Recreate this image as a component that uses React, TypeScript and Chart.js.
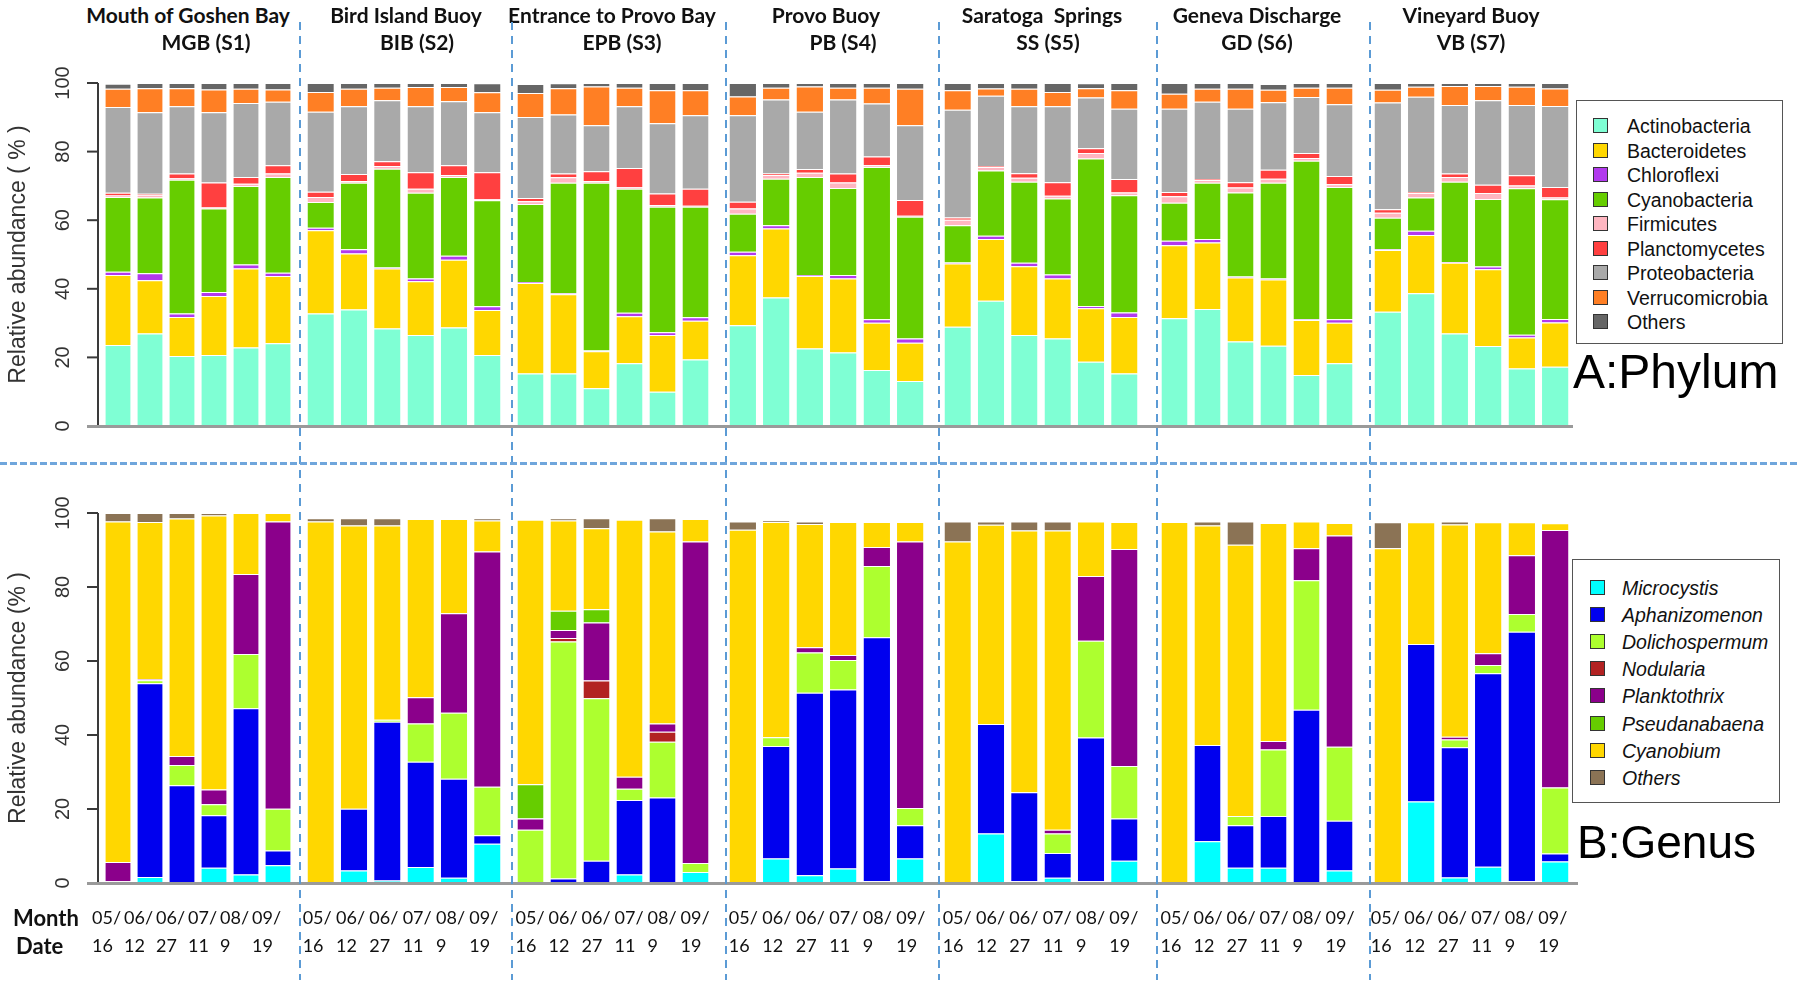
import React, { useEffect, useRef } from "react";
import { Chart, registerables } from "chart.js";

Chart.register(...registerables);

// ---------------- DATA ----------------
const siteTitles = [
  "Mouth of Goshen Bay",
  "Bird Island Buoy",
  "Entrance to Provo Bay",
  "Provo Buoy",
  "Saratoga  Springs",
  "Geneva Discharge",
  "Vineyard Buoy",
];
const siteCodes = ["MGB (S1)", "BIB (S2)", "EPB (S3)", "PB (S4)", "SS (S5)", "GD (S6)", "VB (S7)"];
const monthLabels = ["05/", "06/", "06/", "07/", "08/", "09/"];
const dayLabels = ["16", "12", "27", "11", "9", "19"];
const yTicks = [0, 20, 40, 60, 80, 100];

const phylumNames = [
  "Actinobacteria",
  "Bacteroidetes",
  "Chloroflexi",
  "Cyanobacteria",
  "Firmicutes",
  "Planctomycetes",
  "Proteobacteria",
  "Verrucomicrobia",
  "Others",
];
const phylumColors = ["#7FFFD4", "#FFD700", "#B23AEE", "#66CD00", "#FFB6C1", "#FF4040", "#A9A9A9", "#FF7F24", "#666666"];

// 7 sites x 6 dates (S1..S7)
const actinobacteria = [
  23.6, 27.0, 20.4, 20.7, 22.9, 24.1,
  32.8, 34.0, 28.4, 26.5, 28.7, 20.7,
  15.3, 15.3, 11.0, 18.3, 10.0, 19.4,
  29.4, 37.5, 22.6, 21.4, 16.3, 13.1,
  28.9, 36.5, 26.5, 25.5, 18.7, 15.3,
  31.4, 34.1, 24.6, 23.4, 14.9, 18.3,
  33.3, 38.7, 27.0, 23.3, 16.8, 17.3,
];
const bacteroidetes = [
  20.4, 15.5, 11.4, 17.2, 23.0, 19.6,
  24.3, 16.3, 17.5, 15.7, 19.8, 13.1,
  26.4, 23.1, 10.8, 13.7, 16.5, 11.3,
  20.4, 20.1, 21.1, 21.6, 13.8, 11.2,
  18.5, 18.0, 20.1, 17.5, 15.6, 16.5,
  21.3, 19.4, 18.7, 19.3, 16.0, 11.8,
  18.0, 17.0, 20.6, 22.4, 9.0, 12.9,
];
const chloroflexi = [
  1.0, 2.0, 1.0, 1.2, 1.2, 1.0,
  0.7, 1.2, 0.3, 0.8, 1.1, 1.1,
  0.3, 0.3, 0.2, 1.0, 0.8, 1.0,
  1.0, 0.9, 0.3, 1.0, 1.0, 1.2,
  0.3, 1.0, 1.0, 1.2, 0.7, 1.3,
  1.3, 1.0, 0.3, 0.3, 0.2, 1.0,
  0.2, 1.2, 0.2, 0.8, 0.8, 1.0,
];
const cyanobacteria = [
  21.8, 22.1, 39.0, 24.3, 22.9, 27.9,
  7.5, 19.4, 28.8, 25.0, 23.0, 30.9,
  22.7, 32.2, 48.9, 36.2, 36.6, 32.2,
  11.1, 13.6, 28.6, 25.4, 44.4, 35.5,
  10.8, 19.0, 23.6, 22.1, 43.0, 34.2,
  11.1, 16.4, 24.5, 27.9, 46.2, 38.6,
  9.2, 9.7, 23.4, 19.7, 42.7, 34.9,
];
const firmicutes = [
  0.4, 0.8, 0.5, 0.3, 0.6, 1.0,
  1.5, 0.5, 0.8, 1.2, 0.6, 0.3,
  0.8, 1.6, 0.5, 0.5, 0.5, 0.3,
  1.5, 1.1, 1.2, 1.6, 0.5, 0.3,
  1.6, 1.0, 1.2, 0.8, 1.6, 0.8,
  1.9, 0.8, 1.4, 1.2, 0.8, 0.8,
  1.5, 1.3, 1.4, 1.7, 0.8, 0.5,
];
const planctomycetes = [
  0.8, 0.3, 1.3, 7.3, 2.0, 2.4,
  1.5, 2.1, 1.4, 4.8, 2.8, 7.9,
  1.0, 1.1, 2.9, 5.5, 3.4, 5.0,
  2.0, 0.4, 1.1, 2.6, 2.6, 4.6,
  0.7, 0.3, 1.3, 4.0, 1.4, 3.9,
  1.2, 0.3, 1.6, 2.6, 1.5, 2.4,
  1.0, 0.3, 1.0, 2.4, 3.0, 3.1,
];
const proteobacteria = [
  25.0, 23.8, 19.6, 20.5, 21.6, 18.5,
  23.3, 19.7, 17.8, 19.2, 18.7, 17.5,
  23.6, 17.2, 13.4, 18.0, 20.5, 21.4,
  25.2, 21.6, 16.7, 21.6, 15.4, 21.8,
  31.4, 20.5, 19.5, 22.1, 14.8, 20.5,
  24.3, 22.5, 21.4, 19.7, 16.3, 20.9,
  31.1, 27.8, 20.0, 24.7, 20.5, 23.6,
];
const verrucomicrobia = [
  5.3, 7.0, 5.3, 6.6, 4.1, 3.6,
  5.8, 5.1, 3.6, 5.6, 4.1, 5.8,
  7.0, 7.7, 11.3, 5.4, 9.6, 7.3,
  5.5, 3.4, 7.4, 3.4, 4.6, 10.6,
  5.7, 2.1, 5.1, 4.2, 2.7, 5.4,
  4.4, 3.8, 5.8, 3.6, 2.7, 4.8,
  3.7, 2.9, 5.5, 4.1, 5.3, 5.1,
];
const phylumOthers = [
  1.5, 1.5, 1.5, 1.9, 1.7, 1.9,
  2.6, 1.7, 1.4, 1.2, 1.2, 2.6,
  2.6, 1.4, 1.0, 1.4, 2.1, 2.1,
  3.9, 1.4, 1.0, 1.4, 1.4, 1.7,
  2.1, 1.6, 1.7, 2.6, 1.4, 2.1,
  3.1, 1.7, 1.7, 1.7, 1.4, 1.4,
  2.0, 1.1, 0.9, 0.9, 1.1, 1.6,
];
const phylumSeries = [
  actinobacteria, bacteroidetes, chloroflexi, cyanobacteria, firmicutes,
  planctomycetes, proteobacteria, verrucomicrobia, phylumOthers,
];

const genusNames = [
  "Microcystis",
  "Aphanizomenon",
  "Dolichospermum",
  "Nodularia",
  "Planktothrix",
  "Pseudanabaena",
  "Cyanobium",
  "Others",
];
const genusColors = ["#00FFFF", "#0000EE", "#ADFF2F", "#B22222", "#8B008B", "#66CD00", "#FFD700", "#8B7355"];

const microcystis = [
  0, 1.6, 0.3, 4.1, 2.3, 4.8,
  0, 3.4, 0.7, 4.3, 1.4, 10.6,
  0, 0, 0, 2.3, 0.3, 3.0,
  0, 6.6, 2.1, 3.9, 0.5, 6.6,
  0, 13.4, 0.5, 1.4, 0.5, 6.0,
  0, 11.3, 4.1, 4.1, 0.3, 3.4,
  0, 22.0, 1.5, 4.4, 0.5, 5.8,
];
const aphanizomenon = [
  0.5, 52.4, 26.1, 14.2, 44.9, 4.0,
  0, 16.7, 42.9, 28.5, 26.8, 2.3,
  0, 1.2, 6.0, 20.1, 22.8, 0,
  0, 30.4, 49.3, 48.4, 65.9, 9.0,
  0, 29.6, 24.0, 6.7, 38.8, 11.4,
  0, 26.0, 11.5, 14.0, 46.5, 13.4,
  0, 42.6, 35.2, 52.3, 67.4, 2.2,
];
const dolichospermum = [
  0, 0.8, 5.5, 3.0, 14.7, 11.3,
  0, 0, 0.5, 10.3, 17.8, 13.1,
  14.4, 64.1, 43.9, 3.1, 15.1, 2.4,
  0, 2.4, 10.9, 8.0, 19.3, 4.7,
  0, 0, 0, 5.3, 26.2, 14.2,
  0, 0, 2.5, 18.0, 35.0, 20.0,
  0, 0, 2.1, 2.2, 4.8, 17.8,
];
const nodularia = [
  0, 0, 0, 0, 0, 0,
  0, 0, 0, 0, 0, 0,
  0, 0.9, 4.8, 0, 2.7, 0,
  0, 0, 0, 0, 0, 0,
  0, 0, 0, 0, 0, 0,
  0, 0, 0, 0, 0, 0,
  0, 0, 0, 0, 0, 0,
];
const planktothrix = [
  5.2, 0.3, 2.4, 4.0, 21.6, 77.6,
  0, 0, 0, 7.1, 26.9, 63.6,
  3.0, 2.2, 15.7, 3.2, 2.2, 86.9,
  0, 0, 1.4, 1.3, 5.1, 72.0,
  0, 0, 0, 1.0, 17.5, 58.7,
  0, 0, 0, 2.3, 8.7, 57.1,
  0, 0, 0.7, 3.2, 15.9, 69.6,
];
const pseudanabaena = [
  0, 0, 0, 0, 0, 0,
  0, 0, 0, 0, 0, 0,
  9.3, 5.2, 3.6, 0, 0, 0,
  0, 0, 0, 0, 0, 0,
  0, 0, 0, 0, 0, 0,
  0, 0, 0, 0, 0, 0,
  0, 0, 0, 0, 0, 0,
];
const cyanobium = [
  92.0, 42.5, 64.2, 74.0, 16.5, 2.3,
  97.7, 76.5, 52.5, 48.2, 25.5, 8.4,
  71.5, 24.4, 21.9, 69.5, 51.9, 6.1,
  95.5, 58.2, 33.3, 36.0, 6.8, 5.3,
  92.3, 53.8, 70.8, 80.9, 14.7, 7.3,
  97.6, 59.3, 73.3, 58.9, 7.2, 3.4,
  90.5, 32.9, 57.4, 35.4, 8.9, 1.8,
];
const genusOthers = [
  2.3, 2.4, 1.5, 0.7, 0, 0,
  0.9, 2.0, 2.0, 0, 0, 0.6,
  0, 0.6, 2.7, 0, 3.6, 0,
  2.2, 0.3, 0.7, 0, 0, 0,
  5.4, 0.9, 2.4, 2.4, 0, 0,
  0, 1.1, 6.3, 0, 0, 0,
  7.0, 0, 0.8, 0, 0, 0,
];
const genusSeries = [
  microcystis, aphanizomenon, dolichospermum, nodularia,
  planktothrix, pseudanabaena, cyanobium, genusOthers,
];

// ---------------- LAYOUT (style only) ----------------
const GROUP_LEFT = [102, 304, 514, 726, 941, 1158, 1371];
const GROUP_WIDTH = [192, 200, 198, 201, 200, 198, 201];
const LABEL_SHIFT = [-26, -18, -15, -14, -15, -14, -17];
const TITLE_X1 = [188, 406, 612, 826, 1042, 1257, 1471];
const TITLE_X2 = [206, 417, 622, 843, 1048, 1257, 1471];
const SEPARATORS = [300, 512, 726, 939, 1157, 1370];
const DASH_BLUE = "#5B9BD5";
const SANS = '"Liberation Sans", Arial, sans-serif';
const HUMANIST = 'Lato, "Open Sans", sans-serif';

function makeYAxisPlugin(title: string) {
  return {
    id: "customYAxis",
    afterDraw(chart: any) {
      const s = chart.scales.y;
      const ctx = chart.ctx;
      const ax = 98;
      ctx.save();
      ctx.strokeStyle = "#3a3a3a";
      ctx.lineWidth = 2;
      ctx.beginPath();
      ctx.moveTo(ax, s.getPixelForValue(yTicks[0]));
      ctx.lineTo(ax, s.getPixelForValue(yTicks[yTicks.length - 1]));
      ctx.stroke();
      ctx.fillStyle = "#333";
      ctx.textAlign = "center";
      ctx.textBaseline = "middle";
      ctx.font = `20px ${SANS}`;
      for (const v of yTicks) {
        const y = s.getPixelForValue(v);
        ctx.beginPath();
        ctx.moveTo(ax - 11, y);
        ctx.lineTo(ax, y);
        ctx.stroke();
        ctx.save();
        ctx.translate(63, y);
        ctx.rotate(-Math.PI / 2);
        ctx.fillText(String(v), 0, 0);
        ctx.restore();
      }
      const cy = (s.getPixelForValue(0) + s.getPixelForValue(100)) / 2;
      ctx.font = `23px ${SANS}`;
      ctx.translate(19, cy);
      ctx.rotate(-Math.PI / 2);
      ctx.fillText(title, 0, 0);
      ctx.restore();
    },
  };
}

function StackChart({ group, kind }: { group: number; kind: "phylum" | "genus" }) {
  const ref = useRef<HTMLCanvasElement>(null);
  const isTop = kind === "phylum";
  const first = group === 0;
  const padL = first ? GROUP_LEFT[0] : 10;
  const padR = 10;
  const left = GROUP_LEFT[group] - padL;
  const width = GROUP_WIDTH[group] + padL + padR;
  const padTop = 30;
  const areaTop = isTop ? 83 : 513;
  const areaH = isTop ? 343 : 370;
  const xAxisH = isTop ? 0 : 98;
  const padBottom = isTop ? 20 : 0;
  const top = areaTop - padTop;
  const height = padTop + areaH + xAxisH + padBottom;

  useEffect(() => {
    const names = isTop ? phylumNames : genusNames;
    const colors = isTop ? phylumColors : genusColors;
    const series = isTop ? phylumSeries : genusSeries;
    const labels = monthLabels.map((m, i) => [m, dayLabels[i]]);
    const datasets = names.map((n, i) => ({
      label: n,
      data: series[i].slice(group * 6, group * 6 + 6),
      backgroundColor: colors[i],
      borderColor: "#ffffff",
      borderWidth: { top: 1, left: 0, right: 0, bottom: 0 },
      borderSkipped: "start",
      categoryPercentage: 1,
      barPercentage: 0.79,
    }));
    const plugins: any[] = [];
    if (first) plugins.push(makeYAxisPlugin(isTop ? "Relative abundance ( % )" : "Relative abundance (% )"));
    const chart = new Chart(ref.current as HTMLCanvasElement, {
      type: "bar",
      data: { labels, datasets } as any,
      options: {
        animation: false,
        responsive: false,
        maintainAspectRatio: false,
        devicePixelRatio: 1,
        layout: { padding: { left: padL, right: padR, top: padTop, bottom: padBottom } },
        plugins: { legend: { display: false }, tooltip: { enabled: false } },
        scales: {
          x: {
            stacked: true,
            display: !isTop,
            grid: { display: false, drawTicks: false },
            border: { display: false },
            ticks: {
              align: "start",
              labelOffset: LABEL_SHIFT[group],
              padding: 21,
              autoSkip: false,
              maxRotation: 0,
              minRotation: 0,
              color: "#111",
              font: { family: HUMANIST, size: 18, lineHeight: "28px" },
            },
            afterFit: (s: any) => {
              s.paddingLeft = 0;
              s.paddingRight = 0;
              s.height = xAxisH;
            },
          },
          y: { stacked: true, display: false, min: 0, max: 100 },
        },
      } as any,
      plugins,
    });
    return () => chart.destroy();
  }, []);

  return (
    <canvas
      ref={ref}
      width={width}
      height={height}
      style={{ position: "absolute", left, top, width, height }}
    />
  );
}

function Legend({ names, colors, left, top, width, height, firstY, step, sqLeft, textLeft, italic }: any) {
  return (
    <div
      style={{
        position: "absolute",
        left,
        top,
        width,
        height,
        border: "1.5px solid #555",
        boxSizing: "border-box",
        background: "#fff",
      }}
    >
      {names.map((n: string, i: number) => (
        <React.Fragment key={n}>
          <div
            style={{
              position: "absolute",
              left: sqLeft,
              top: firstY + step * i - 8,
              width: 15,
              height: 15,
              background: colors[i],
              border: "1px solid #333",
              boxSizing: "border-box",
            }}
          />
          <div
            style={{
              position: "absolute",
              left: textLeft,
              top: firstY + step * i - 12,
              height: 24,
              lineHeight: "24px",
              fontFamily: SANS,
              fontSize: 19.5,
              fontStyle: italic ? "italic" : "normal",
              color: "#111",
              whiteSpace: "nowrap",
            }}
          >
            {n}
          </div>
        </React.Fragment>
      ))}
    </div>
  );
}

export default function App() {
  const groups = [0, 1, 2, 3, 4, 5, 6];
  const titleStyle: any = {
    position: "absolute",
    transform: "translateX(-50%)",
    fontFamily: HUMANIST,
    fontWeight: 700,
    fontSize: 21,
    lineHeight: "26px",
    whiteSpace: "pre",
    color: "#111",
  };
  return (
    <div
      style={{
        position: "absolute",
        left: 0,
        top: 0,
        width: 1800,
        height: 992,
        background: "#fff",
        overflow: "hidden",
      }}
    >
      {groups.map((g) => (
        <StackChart key={"p" + g} group={g} kind="phylum" />
      ))}
      {groups.map((g) => (
        <StackChart key={"g" + g} group={g} kind="genus" />
      ))}

      {/* gray x axis lines */}
      <div style={{ position: "absolute", left: 87, top: 425, width: 1486, height: 2.5, background: "#9a9a9a" }} />
      <div style={{ position: "absolute", left: 87, top: 882, width: 1491, height: 2.5, background: "#9a9a9a" }} />

      {/* site titles */}
      {groups.map((g) => (
        <React.Fragment key={"t" + g}>
          <div style={{ ...titleStyle, left: TITLE_X1[g], top: 2 }}>{siteTitles[g]}</div>
          <div style={{ ...titleStyle, left: TITLE_X2[g], top: 29 }}>{siteCodes[g]}</div>
        </React.Fragment>
      ))}

      {/* separators */}
      {SEPARATORS.map((x) => (
        <div
          key={"s" + x}
          style={{
            position: "absolute",
            left: x - 1,
            top: 22,
            width: 2,
            height: 958,
            backgroundImage: `repeating-linear-gradient(to bottom, ${DASH_BLUE} 0px, ${DASH_BLUE} 8px, transparent 8px, transparent 14px)`,
          }}
        />
      ))}
      <div
        style={{
          position: "absolute",
          left: 0,
          top: 462,
          width: 1800,
          height: 3,
          backgroundImage: `repeating-linear-gradient(to right, #6FA6DC 0px, #6FA6DC 7px, transparent 7px, transparent 10px)`,
        }}
      />

      {/* Month / Date */}
      <div style={{ position: "absolute", left: 13, top: 904, fontFamily: HUMANIST, fontWeight: 700, fontSize: 22, lineHeight: "28px", color: "#111" }}>
        Month
      </div>
      <div style={{ position: "absolute", left: 16, top: 932, fontFamily: HUMANIST, fontWeight: 700, fontSize: 22, lineHeight: "28px", color: "#111" }}>
        Date
      </div>

      {/* legends */}
      <Legend
        names={phylumNames}
        colors={phylumColors}
        left={1576}
        top={100}
        width={207}
        height={244}
        firstY={25}
        step={24.5}
        sqLeft={16}
        textLeft={50}
        italic={false}
      />
      <Legend
        names={genusNames}
        colors={genusColors}
        left={1572}
        top={559}
        width={208}
        height={244}
        firstY={28}
        step={27.1}
        sqLeft={17}
        textLeft={49}
        italic={true}
      />
      <div style={{ position: "absolute", left: 1573, top: 348, fontFamily: SANS, fontSize: 48, lineHeight: "48px", color: "#000", whiteSpace: "nowrap" }}>
        A:Phylum
      </div>
      <div style={{ position: "absolute", left: 1577, top: 819, fontFamily: SANS, fontSize: 46, lineHeight: "46px", color: "#000", whiteSpace: "nowrap" }}>
        B:Genus
      </div>
    </div>
  );
}
